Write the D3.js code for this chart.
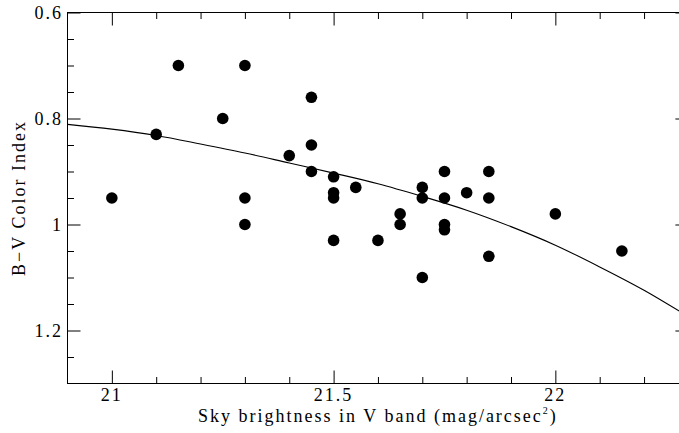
<!DOCTYPE html>
<html>
<head>
<meta charset="utf-8">
<script src="https://cdn.jsdelivr.net/npm/d3@7"></script>
<style>
  html, body { margin: 0; padding: 0; background: #fff; }
  svg { display: block; }
  text { font-family: "Liberation Serif", "DejaVu Serif", serif; fill: #000; }
</style>
</head>
<body>
<svg id="chart" width="679" height="433"></svg>
<script>
// Observed points: sky brightness (mag/arcsec^2) and B-V colour index
const skyV = [21.0, 21.1, 21.15, 21.25, 21.3, 21.3, 21.3, 21.4, 21.45, 21.45, 21.45,
              21.5, 21.5, 21.5, 21.5, 21.55, 21.6, 21.65, 21.65, 21.7, 21.7, 21.7,
              21.75, 21.75, 21.75, 21.75, 21.8, 21.85, 21.85, 21.85, 22.0, 22.15];
const colorBV = [0.95, 0.83, 0.70, 0.80, 0.70, 0.95, 1.00, 0.87, 0.76, 0.85, 0.90,
                 0.91, 0.94, 0.95, 1.03, 0.93, 1.03, 0.98, 1.00, 0.93, 0.95, 1.10,
                 0.90, 0.95, 1.00, 1.01, 0.94, 0.90, 0.95, 1.06, 0.98, 1.05];

// Fitted curve
const fitX = [20.9, 21.0, 21.1, 21.2, 21.3, 21.4, 21.5, 21.6, 21.7, 21.8, 21.9, 22.0, 22.1, 22.2, 22.3];
const fitY = [0.811, 0.820, 0.832, 0.848, 0.865, 0.884, 0.903, 0.923, 0.947, 0.973, 1.004, 1.039, 1.080, 1.124, 1.174];

// Axis ticks
const xMajorTicks = [21, 21.5, 22];
const xTickLabels = ["21", "21.5", "22"];
const xMinorTicks = [21.1, 21.2, 21.3, 21.4, 21.6, 21.7, 21.8, 21.9, 22.1, 22.2];
const yMajorTicks = [0.6, 0.8, 1.0, 1.2];
const yTickLabels = ["0.6", "0.8", "1", "1.2"];
const yMinorTicks = [0.65, 0.7, 0.75, 0.85, 0.9, 0.95, 1.05, 1.1, 1.15, 1.25];

const xTitle = "Sky brightness in V band (mag/arcsec";
const xTitleSup = "2";
const yTitle = "B\u2212V Color Index";

const svg = d3.select("#chart");
const L = 67.5, R = 688.4, T = 12.5, B = 383.5;

const x = d3.scaleLinear().domain([20.9, 22.3]).range([L, R]);
const y = d3.scaleLinear().domain([0.6, 1.3]).range([T, B]);

const plot = svg.append("g");
plot.append("clipPath").attr("id", "clip")
  .append("rect").attr("x", L).attr("y", T).attr("width", R - L).attr("height", B - T);

// Fitted curve
const line = d3.line().x((d, i) => x(fitX[i])).y(d => y(d)).curve(d3.curveMonotoneX);
plot.append("path")
  .attr("clip-path", "url(#clip)")
  .attr("d", line(fitY))
  .attr("fill", "none").attr("stroke", "#000").attr("stroke-width", 1.1);

// Points
plot.selectAll("circle.pt").data(skyV).enter().append("circle")
  .attr("class", "pt")
  .attr("cx", d => x(d))
  .attr("cy", (d, i) => y(colorBV[i]))
  .attr("r", 5.8)
  .attr("fill", "#000");

// Axes using d3 axis generators (ticks inside)
const tickStyle = g => {
  g.select(".domain").remove();
  g.selectAll("line").attr("stroke", "#000").attr("stroke-width", 1);
  g.selectAll("text").remove();
};
const majLen = 13, minLen = 6.5;

svg.append("g").attr("transform", `translate(0,${B})`)
  .call(d3.axisBottom(x).tickValues(xMajorTicks).tickSizeInner(-majLen).tickSizeOuter(0)).call(tickStyle);
svg.append("g").attr("transform", `translate(0,${B})`)
  .call(d3.axisBottom(x).tickValues(xMinorTicks).tickSizeInner(-minLen).tickSizeOuter(0)).call(tickStyle);
svg.append("g").attr("transform", `translate(0,${T})`)
  .call(d3.axisTop(x).tickValues(xMajorTicks).tickSizeInner(-majLen).tickSizeOuter(0)).call(tickStyle);
svg.append("g").attr("transform", `translate(0,${T})`)
  .call(d3.axisTop(x).tickValues(xMinorTicks).tickSizeInner(-minLen).tickSizeOuter(0)).call(tickStyle);
svg.append("g").attr("transform", `translate(${L},0)`)
  .call(d3.axisLeft(y).tickValues(yMajorTicks).tickSizeInner(-majLen).tickSizeOuter(0)).call(tickStyle);
svg.append("g").attr("transform", `translate(${L},0)`)
  .call(d3.axisLeft(y).tickValues(yMinorTicks).tickSizeInner(-minLen).tickSizeOuter(0)).call(tickStyle);
svg.append("g").attr("transform", `translate(${R},0)`)
  .call(d3.axisRight(y).tickValues(yMajorTicks).tickSizeInner(-majLen).tickSizeOuter(0)).call(tickStyle);
svg.append("g").attr("transform", `translate(${R},0)`)
  .call(d3.axisRight(y).tickValues(yMinorTicks).tickSizeInner(-minLen).tickSizeOuter(0)).call(tickStyle);

// Frame
svg.append("rect").attr("x", L).attr("y", T).attr("width", R - L).attr("height", B - T)
  .attr("fill", "none").attr("stroke", "#000").attr("stroke-width", 1);

// Tick labels
const fs = 18, ls = 2;
svg.selectAll("text.xl").data(xMajorTicks).enter().append("text")
  .attr("class", "xl")
  .attr("x", d => x(d)).attr("y", 401)
  .attr("text-anchor", "middle")
  .attr("font-size", fs).attr("letter-spacing", ls)
  .text((d, i) => xTickLabels[i]);

svg.selectAll("text.yl").data(yMajorTicks).enter().append("text")
  .attr("class", "yl")
  .attr("x", 63).attr("y", d => y(d) + 6)
  .attr("text-anchor", "end")
  .attr("font-size", fs).attr("letter-spacing", ls)
  .text((d, i) => yTickLabels[i]);

// Axis titles
const xt = svg.append("text")
  .attr("x", (L + R) / 2).attr("y", 422)
  .attr("text-anchor", "middle")
  .attr("font-size", fs).attr("letter-spacing", ls);
xt.append("tspan").text(xTitle);
xt.append("tspan").attr("font-size", 10).attr("dy", -8).text(xTitleSup);
xt.append("tspan").attr("dy", 8).text(")");

svg.append("text")
  .attr("transform", `translate(25,${(T + B) / 2}) rotate(-90)`)
  .attr("text-anchor", "middle")
  .attr("font-size", fs).attr("letter-spacing", ls)
  .text(yTitle);
</script>
</body>
</html>
